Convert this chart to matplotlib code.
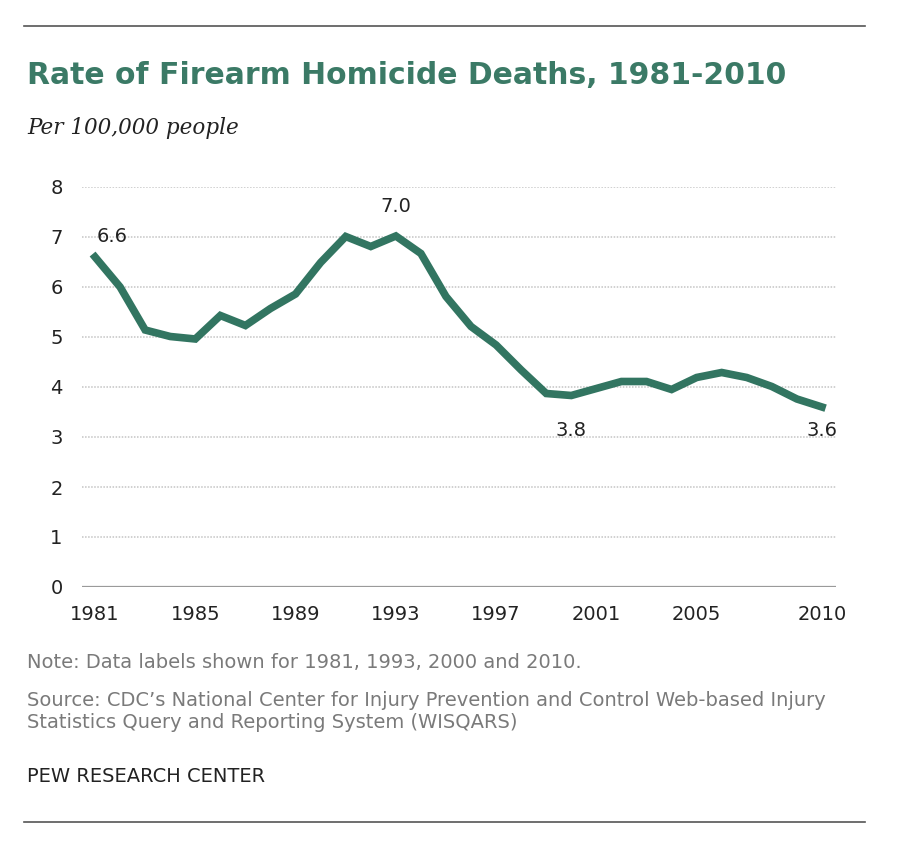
import matplotlib.pyplot as plt
from matplotlib.lines import Line2D

years = list(range(1981, 2011))
rate = [6.6, 6.0, 5.14, 5.01, 4.96, 5.43, 5.23, 5.57, 5.86, 6.49,
        7.01, 6.81, 7.02, 6.67, 5.81, 5.21, 4.84, 4.34, 3.87, 3.83,
        3.97, 4.11, 4.11, 3.95, 4.19, 4.29, 4.19, 4.01, 3.76, 3.6]
tick_years = [1981, 1985, 1989, 1993, 1997, 2001, 2005, 2010]
label_years = [1981, 1993, 2000, 2010]
label_text = ['6.6', '7.0', '3.8', '3.6']

green = '#327561'
title_green = '#3b7a66'

fig = plt.figure(figsize=(9, 8.46), dpi=100)
ax = fig.add_axes([82 / 900, 1 - 587 / 846, (836 - 82) / 900, 400 / 846])

for v in range(1, 9):
    ax.axhline(v, color='#c4c4c4', lw=1.1, ls=(0, (1, 1)), zorder=1)
ax.axhline(0, color='#9a9a9a', lw=1.6, zorder=1)

ax.plot(years, rate, color=green, lw=5.5, solid_joinstyle='miter', zorder=3)

# data labels
offsets = {1981: (1981.7, 7.0), 1993: (1993, 7.6), 2000: (2000, 3.12), 2010: (2010, 3.12)}
for yr, txt in zip(label_years, label_text):
    x, y = offsets[yr]
    ax.text(x, y, txt, fontsize=14, ha='center', va='center', color='#222222')

ax.set_xlim(1980.48, 2010.56)
ax.set_ylim(0, 8)
ax.set_xticks(tick_years)
ax.set_yticks(range(0, 9))
ax.tick_params(length=0, labelsize=14, labelcolor='#222222')
ax.tick_params(axis='x', pad=13)
ax.tick_params(axis='y', pad=14)
for s in ax.spines.values():
    s.set_visible(False)

fig.text(27 / 900, 1 - 75 / 846, 'Rate of Firearm Homicide Deaths, 1981-2010',
         fontsize=21.5, fontweight='bold', color=title_green, va='center')
fig.text(27 / 900, 1 - 128 / 846, 'Per 100,000 people', fontsize=15.5,
         family='DejaVu Serif', style='italic', color='#222222', va='center')

fig.text(27 / 900, 1 - 663 / 846, 'Note: Data labels shown for 1981, 1993, 2000 and 2010.',
         fontsize=14, color='#7a7a7a', va='center')
fig.text(27 / 900, 1 - 700 / 846,
         'Source: CDC\u2019s National Center for Injury Prevention and Control Web-based Injury',
         fontsize=14, color='#7a7a7a', va='center')
fig.text(27 / 900, 1 - 722 / 846, 'Statistics Query and Reporting System (WISQARS)',
         fontsize=14, color='#7a7a7a', va='center')
fig.text(27 / 900, 1 - 776 / 846, 'PEW RESEARCH CENTER',
         fontsize=14, color='#222222', va='center')

for yy in (26, 822):
    fig.add_artist(Line2D([24 / 900, 865 / 900], [1 - yy / 846, 1 - yy / 846],
                          color='#555555', lw=1.2))

fig.savefig('out.png', dpi=100, facecolor='white')
